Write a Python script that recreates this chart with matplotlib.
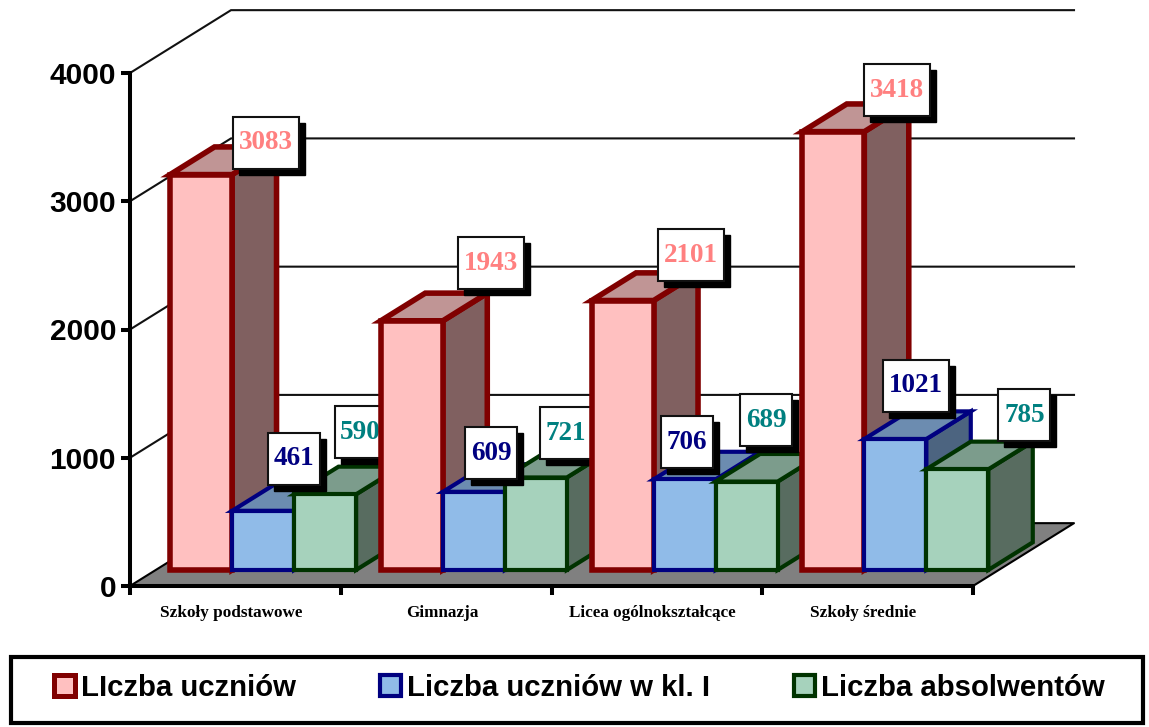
import matplotlib
matplotlib.use("Agg")
import matplotlib.pyplot as plt
from matplotlib.patches import Polygon, Rectangle, Patch
from matplotlib.transforms import IdentityTransform

categories = ["Szkoły podstawowe", "Gimnazja", "Licea ogólnokształcące", "Szkoły średnie"]
series_names = ["LIczba uczniów", "Liczba uczniów w kl. I", "Liczba absolwentów"]
uczniowie = [3083, 1943, 2101, 3418]
uczniowie_kl1 = [461, 609, 706, 1021]
absolwenci = [590, 721, 689, 785]
series_values = [uczniowie, uczniowie_kl1, absolwenci]
yticks = [0, 1000, 2000, 3000, 4000]

# styles per series: front, top, side, edge, label colour, edge width (pt)
front = ["#FFC0C0", "#90BBE8", "#A6D2BC"]
top = ["#C09595", "#6C8CB0", "#7C9C8C"]
side = ["#806060", "#4C6480", "#586C60"]
edge = ["#800000", "#000080", "#003300"]
label_col = ["#FF8080", "#000080", "#008080"]
edge_w = [4.0, 3.0, 3.0]

# manual data label placement, px from centre of bar's front top edge (right, down)
label_offsets = [
    [(65, -32), (30.5, -52), (35.5, -62)],
    [(79, -57.5), (17.5, -38.5), (30, -44.5)],
    [(68, -45.5), (2, -37), (19.5, -61.6)],
    [(64, -41.6), (20.5, -53.5), (67, -54)],
]

W, H = 1149, 727
fig = plt.figure(figsize=(W / 100, H / 100), dpi=100, facecolor="white")
ax = fig.add_axes([130 / W, 1 - 586 / H, (973 - 130) / W, (586 - 73) / H])
ax.set_xlim(0, 4)
ax.set_ylim(0, 4000)
ax.patch.set_visible(False)

DX, DY = 101 / 210.75, 490.0   # depth of the 3D box in data units


def P(x, y, d=0.0):
    return (x + d * DX, y + d * DY)


# walls and grid
for v in yticks[1:]:
    ax.plot(*zip(P(0, v), P(0, v, 1), P(4, v, 1)), color="#111111", lw=1.5,
            clip_on=False, zorder=1, solid_joinstyle="miter")
ax.add_patch(Polygon([P(0, 0), P(4, 0), P(4, 0, 1), P(0, 0, 1)], closed=True,
                     facecolor="#808080", edgecolor="none", clip_on=False, zorder=1.5))
ax.plot(*zip(P(0, 0), P(0, 0, 1), P(4, 0, 1), P(4, 0)), color="#000000", lw=1.5,
        clip_on=False, zorder=1.6)

# bars
D0, D1 = 0.255, 0.695
GAP, BW = 0.068, 62 / 210.75
z = 3.0
for i in range(len(categories)):
    for s, vals in enumerate(series_values):
        v = vals[i]
        x0 = i + GAP + s * BW
        x1 = x0 + BW
        faces = [
            ([P(x1, 0, D0), P(x1, 0, D1), P(x1, v, D1), P(x1, v, D0)], side[s]),
            ([P(x0, v, D0), P(x1, v, D0), P(x1, v, D1), P(x0, v, D1)], top[s]),
            ([P(x0, 0, D0), P(x1, 0, D0), P(x1, v, D0), P(x0, v, D0)], front[s]),
        ]
        for pts, c in faces:
            ax.add_patch(Polygon(pts, closed=True, facecolor=c, edgecolor=edge[s],
                                 lw=edge_w[s], joinstyle="miter", clip_on=False, zorder=z))
            z += 0.001
    # data labels are drawn after the category's bars, before the next category
    for s, vals in enumerate(series_values):
        v = vals[i]
        xc = i + GAP + s * BW + BW / 2
        px, py = ax.transData.transform(P(xc, v, D0))
        ox, oy = label_offsets[i][s]
        cx, cy = px + ox, py - oy
        bw = 66 if v >= 1000 else 52
        bh = 52
        ax.add_patch(Rectangle((cx - bw / 2 + 6, cy - bh / 2 - 6), bw, bh, facecolor="black",
                               edgecolor="black", lw=1, transform=IdentityTransform(),
                               clip_on=False, zorder=z))
        z += 0.001
        ax.add_patch(Rectangle((cx - bw / 2, cy - bh / 2), bw, bh, facecolor="white",
                               edgecolor="#111111", lw=1.5, transform=IdentityTransform(),
                               clip_on=False, zorder=z))
        z += 0.001
        ax.text(cx, cy + 3, str(v), transform=IdentityTransform(), ha="center", va="center_baseline",
                family="Liberation Serif", weight="bold", fontsize=19.5, color=label_col[s],
                clip_on=False, zorder=z)
        z += 0.001

# axes
for sp in ("top", "right"):
    ax.spines[sp].set_visible(False)
for sp in ("left", "bottom"):
    ax.spines[sp].set_linewidth(2.9)
    ax.spines[sp].set_color("black")
    ax.spines[sp].set_zorder(20)
ax.set_yticks(yticks)
ax.set_yticklabels([str(t) for t in yticks], family="Liberation Sans", weight="bold", fontsize=21.5)
ax.tick_params(axis="y", length=6.5, width=2.9, pad=3.5)
ax.set_xticks(range(5))
ax.set_xticklabels([""] * 5)
ax.tick_params(axis="x", which="major", length=6.5, width=2.9)
ax.set_xticks([i + 0.48 for i in range(len(categories))], minor=True)
ax.set_xticklabels(categories, minor=True, family="Liberation Serif", weight="bold", fontsize=12.3)
ax.tick_params(axis="x", which="minor", length=0, pad=14)

# legend frame and legend
fig.add_artist(Rectangle((11 / W, 1 - 723 / H), (1143 - 11) / W, (723 - 657) / H,
                         transform=fig.transFigure, facecolor="white", edgecolor="black", lw=3))
handles = [Patch(facecolor=front[s], edgecolor=edge[s], lw=3.6 if s == 0 else 3.0, joinstyle="miter")
           for s in range(3)]
leg = fig.legend(handles, series_names, ncol=3, frameon=False, loc="center left",
                 bbox_to_anchor=(54 / W, 1 - 688 / H), borderaxespad=0, borderpad=0,
                 prop={"family": "Liberation Sans", "weight": "bold", "size": 21.2},
                 handlelength=0.72, handleheight=0.72, handletextpad=0.2, columnspacing=2.85)
leg.set_zorder(30)

fig.savefig("out.png", dpi=100)
